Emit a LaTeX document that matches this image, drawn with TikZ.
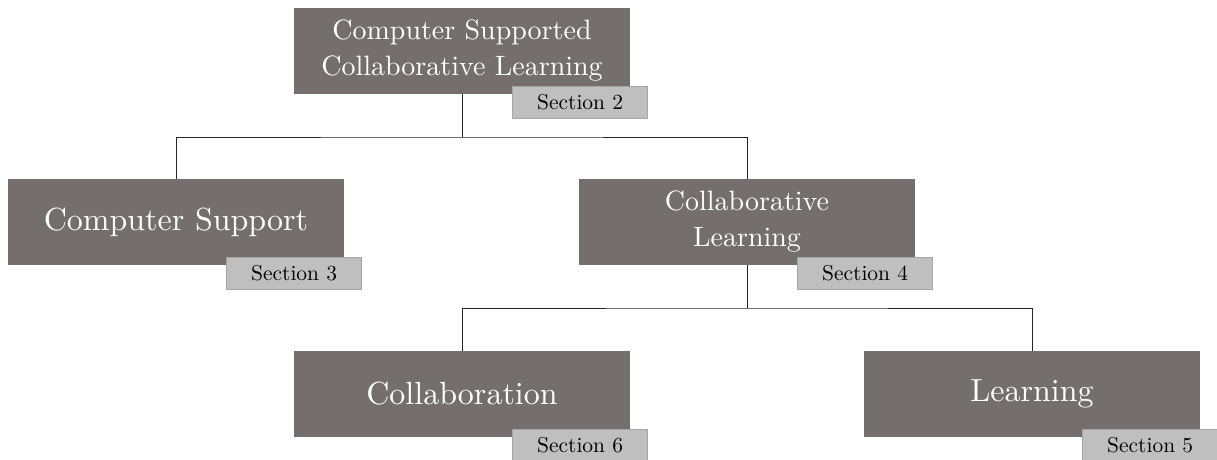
\documentclass[tikz,border=0pt]{standalone}
\usepackage{fontspec}
\newfontfamily\lmten{lmroman10-regular.otf}
\definecolor{boxgray}{RGB}{116,111,109}
\definecolor{secgray}{RGB}{191,191,191}
\definecolor{secline}{RGB}{165,165,165}
\begin{document}
\begin{tikzpicture}[x=1pt,y=-1pt,
  mainbox/.style={fill=boxgray, draw=none, minimum width=336pt, minimum height=86pt,
    inner sep=0pt, text=white, align=center, font=\lmten\fontsize{32}{38}\selectfont},
  twoline/.style={font=\lmten\fontsize{28}{36}\selectfont},
  secbox/.style={fill=secgray, draw=secline, line width=0.8pt, minimum width=135pt,
    minimum height=32pt, inner sep=0pt, anchor=north west, text=black,
    font=\lmten\fontsize{21.5}{26}\selectfont},
  link/.style={draw=black!85, line width=1pt}]
\useasboundingbox (0,0) rectangle (1217,460);
% main boxes
\node[mainbox, twoline] (top) at (462,51) {Computer Supported\\Collaborative Learning};
\node[mainbox] (cs) at (176,222) {Computer Support};
\node[mainbox, twoline] (cl) at (747,222) {Collaborative\\Learning};
\node[mainbox] (coll) at (462,394) {Collaboration};
\node[mainbox] (learn) at (1032,394) {Learning};
% connectors
\coordinate (j1) at (462,137);
\coordinate (j2) at (747,308);
\draw[link] (top.south) -- (j1);
\draw[link] (cs.north) |- (j1) -| (cl.north);
\draw[link] (cl.south) -- (j2);
\draw[link] (coll.north) |- (j2) -| (learn.north);
% section labels
\node[secbox] (s2) at ([shift={(-118,-8)}]top.south east) {Section 2};
\node[secbox] (s3) at ([shift={(-118,-8)}]cs.south east) {Section 3};
\node[secbox] (s4) at ([shift={(-118,-8)}]cl.south east) {Section 4};
\node[secbox] (s6) at ([shift={(-118,-8)}]coll.south east) {Section 6};
\node[secbox] (s5) at ([shift={(-118,-8)}]learn.south east) {Section 5};
\end{tikzpicture}
\end{document}
